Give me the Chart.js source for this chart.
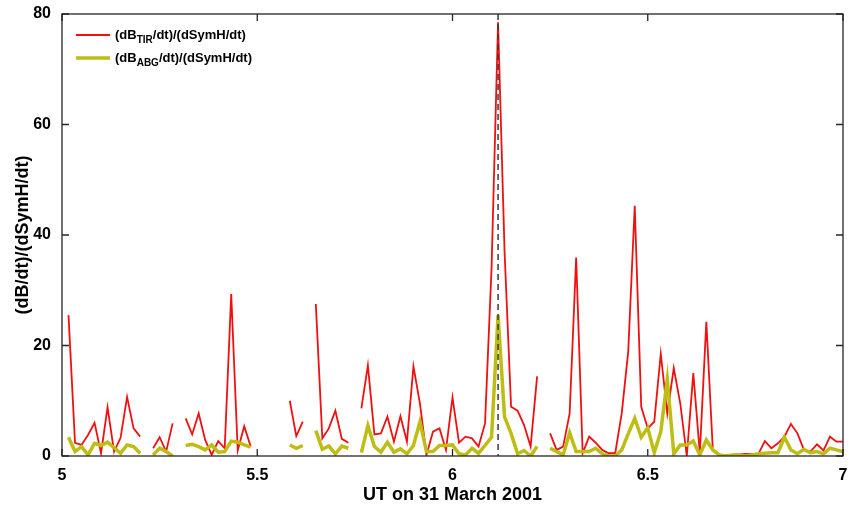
<!DOCTYPE html>
<html>
<head>
<meta charset="utf-8">
<script src="https://cdn.jsdelivr.net/npm/chart.js@4"></script>
<style>
    html, body { margin: 0; padding: 0; background: #ffffff; }
    #wrap { width: 850px; height: 511px; }
</style>
</head>
<body>
<div id="wrap"><canvas id="ratioChart" width="850" height="511"></canvas></div>
<script>
// minutes after 05:00 UT, 1-min cadence
const minutes = [
    1, 2, 3, 4, 5, 6, 7, 8, 9, 10, 11, 12, 13, 14, 15, 16, 17, 18, 19, 20,
    21, 22, 23, 24, 25, 26, 27, 28, 29, 30, 31, 32, 33, 34, 35, 36, 37, 38, 39, 40,
    41, 42, 43, 44, 45, 46, 47, 48, 49, 50, 51, 52, 53, 54, 55, 56, 57, 58, 59, 60,
    61, 62, 63, 64, 65, 66, 67, 68, 69, 70, 71, 72, 73, 74, 75, 76, 77, 78, 79, 80,
    81, 82, 83, 84, 85, 86, 87, 88, 89, 90, 91, 92, 93, 94, 95, 96, 97, 98, 99, 100,
    101, 102, 103, 104, 105, 106, 107, 108, 109, 110, 111, 112, 113, 114, 115, 116, 117, 118, 119, 120,
];

// (dB_TIR/dt)/(dSymH/dt)
const tirRatio = [
    25.5, 2.4, 2.0, 3.8, 6.0, 0.5, 8.8, 0.8, 3.3, 10.7, 5.0, 3.5, null, 1.4, 3.4, 0.8, 5.9, null, 6.8, 3.9,
    7.7, 2.9, 0.2, 2.7, 1.4, 29.3, 1.0, 5.4, 1.7, null, null, null, null, null, 10.0, 3.6, 6.2, null, 27.5, 3.2,
    5.0, 8.2, 3.1, 2.4, null, 8.6, 16.4, 3.9, 4.1, 7.1, 2.6, 7.2, 2.6, 16.2, 9.5, 0.2, 4.4, 5.0, 1.1, 10.6,
    2.4, 3.5, 3.2, 1.7, 5.9, 34.0, 78.5, 37.0, 8.9, 8.2, 5.6, 1.7, 14.4, null, 4.1, 1.1, 1.7, 7.7, 35.9, 0.5,
    3.5, 2.4, 1.1, 0.5, 0.5, 7.7, 18.9, 45.3, 8.9, 5.0, 6.2, 18.5, 7.7, 15.9, 9.5, 0.0, 15.0, 0.5, 24.3, 1.1,
    0.2, 0.2, 0.2, 0.3, 0.4, 0.4, 0.4, 2.7, 1.4, 2.3, 3.5, 5.8, 4.1, 1.1, 0.8, 2.1, 1.0, 3.5, 2.6, 2.6,
];

// (dB_ABG/dt)/(dSymH/dt)
const abgRatio = [
    3.4, 0.8, 1.7, 0.2, 2.3, 1.9, 2.5, 1.5, 0.5, 2.0, 1.7, 0.5, null, 0.2, 1.4, 0.8, 0.0, null, 1.9, 2.1,
    1.7, 1.1, 2.0, 0.7, 0.8, 2.7, 2.5, 2.0, 1.6, null, null, null, null, null, 2.0, 1.4, 1.9, null, 4.6, 1.2,
    1.8, 0.4, 1.8, 1.4, null, 0.6, 5.5, 1.7, 0.7, 2.5, 0.7, 1.3, 0.4, 1.9, 6.2, 0.8, 0.8, 1.9, 1.9, 2.0,
    0.4, 0.2, 1.4, 0.5, 1.9, 3.4, 25.5, 7.1, 4.1, 0.4, 1.0, 0.0, 1.7, null, 1.4, 0.8, 0.2, 4.2, 0.8, 0.8,
    0.8, 1.4, 0.4, 0.0, 0.0, 1.1, 4.0, 6.8, 3.4, 5.1, 0.6, 4.4, 13.9, 0.4, 2.0, 2.0, 2.7, 0.2, 2.9, 1.1,
    0.2, 0.0, 0.2, 0.2, 0.0, 0.2, 0.4, 0.5, 0.6, 0.6, 3.4, 1.1, 0.4, 1.2, 0.6, 0.8, 0.4, 1.4, 1.1, 0.8,
];

const xTicks = [5, 5.5, 6, 6.5, 7];
const yTicks = [0, 20, 40, 60, 80];
const startUT = 5;
const markerUT = 6.1167;

const RED = "#f01010";
const YELLOW = "#bdbd14";
const AXIS = "#262626";
const FONT = "'Liberation Sans', Arial, Helvetica, sans-serif";

const toPoints = (values) =>
    minutes.map((m, i) => ({ x: startUT + m / 60, y: values[i] }));

const frameAndMarker = {
    id: "frameAndMarker",
    afterDatasetsDraw(chart) {
        const { ctx, chartArea: a, scales } = chart;
        const xs = scales.x;
        const ys = scales.y;
        ctx.save();
        // dashed marker
        const mx = xs.getPixelForValue(markerUT);
        ctx.strokeStyle = "#3a3a3a";
        ctx.lineWidth = 1.5;
        ctx.setLineDash([6, 4]);
        ctx.beginPath();
        ctx.moveTo(mx, a.top);
        ctx.lineTo(mx, a.bottom);
        ctx.stroke();
        ctx.setLineDash([]);
        // box
        ctx.strokeStyle = AXIS;
        ctx.lineWidth = 1.3;
        ctx.strokeRect(a.left, a.top, a.right - a.left, a.bottom - a.top);
        // inward ticks on all four sides
        const tl = 7;
        ctx.beginPath();
        xTicks.forEach((v) => {
            const px = xs.getPixelForValue(v);
            ctx.moveTo(px, a.bottom);
            ctx.lineTo(px, a.bottom - tl);
            ctx.moveTo(px, a.top);
            ctx.lineTo(px, a.top + tl);
        });
        yTicks.forEach((v) => {
            const py = ys.getPixelForValue(v);
            ctx.moveTo(a.left, py);
            ctx.lineTo(a.left + tl, py);
            ctx.moveTo(a.right, py);
            ctx.lineTo(a.right - tl, py);
        });
        ctx.stroke();
        // legend with subscripts
        const rows = [
            { color: RED, width: 1.8, sub: "TIR" },
            { color: YELLOW, width: 3.5, sub: "ABG" },
        ];
        const lx = a.left + 14;
        rows.forEach((row, i) => {
            const y = a.top + 21 + i * 23;
            ctx.strokeStyle = row.color;
            ctx.lineWidth = row.width;
            ctx.beginPath();
            ctx.moveTo(lx, y);
            ctx.lineTo(lx + 34, y);
            ctx.stroke();
            ctx.fillStyle = "#000000";
            ctx.textBaseline = "middle";
            ctx.textAlign = "left";
            let tx = lx + 39;
            ctx.font = `bold 13px ${FONT}`;
            ctx.fillText("(dB", tx, y);
            tx += ctx.measureText("(dB").width;
            ctx.font = `bold 10px ${FONT}`;
            ctx.fillText(row.sub, tx, y + 5);
            tx += ctx.measureText(row.sub).width;
            ctx.font = `bold 13px ${FONT}`;
            ctx.fillText("/dt)/(dSymH/dt)", tx, y);
        });
        ctx.restore();
    },
};

new Chart(document.getElementById("ratioChart"), {
    type: "line",
    data: {
        datasets: [
            {
                label: "(dB_TIR/dt)/(dSymH/dt)",
                data: toPoints(tirRatio),
                borderColor: RED,
                borderWidth: 1.8,
                pointRadius: 0,
                spanGaps: false,
                tension: 0,
                order: 2,
            },
            {
                label: "(dB_ABG/dt)/(dSymH/dt)",
                data: toPoints(abgRatio),
                borderColor: YELLOW,
                borderWidth: 3.5,
                pointRadius: 0,
                spanGaps: false,
                tension: 0,
                order: 1,
            },
        ],
    },
    options: {
        responsive: false,
        animation: false,
        layout: { padding: { left: 0, top: 14, right: 7, bottom: 0 } },
        plugins: {
            legend: { display: false },
            tooltip: { enabled: false },
        },
        scales: {
            x: {
                type: "linear",
                min: 5,
                max: 7,
                afterBuildTicks: (scale) => {
                    scale.ticks = xTicks.map((value) => ({ value }));
                },
                afterFit: (scale) => {
                    scale.height = 55;
                    scale.paddingLeft = 0;
                    scale.paddingRight = 0;
                },
                grid: { display: false, drawTicks: false },
                border: { display: false },
                ticks: {
                    color: "#000000",
                    padding: 10,
                    font: { family: FONT, size: 16, weight: "bold" },
                    callback: (v) => String(v),
                },
                title: {
                    display: true,
                    text: "UT on 31 March 2001",
                    color: "#000000",
                    font: { family: FONT, size: 18, weight: "bold" },
                    padding: { top: 0, bottom: 5 },
                },
            },
            y: {
                type: "linear",
                min: 0,
                max: 80,
                afterBuildTicks: (scale) => {
                    scale.ticks = yTicks.map((value) => ({ value }));
                },
                afterFit: (scale) => {
                    scale.width = 62;
                    scale.paddingTop = 0;
                    scale.paddingBottom = 0;
                },
                grid: { display: false, drawTicks: false },
                border: { display: false },
                ticks: {
                    color: "#000000",
                    padding: 11,
                    font: { family: FONT, size: 16, weight: "bold" },
                },
                title: {
                    display: true,
                    text: "(dB/dt)/(dSymH/dt)",
                    color: "#000000",
                    font: { family: FONT, size: 18, weight: "bold" },
                    padding: { top: 12, bottom: 0 },
                },
            },
        },
    },
    plugins: [frameAndMarker],
});
</script>
</body>
</html>
